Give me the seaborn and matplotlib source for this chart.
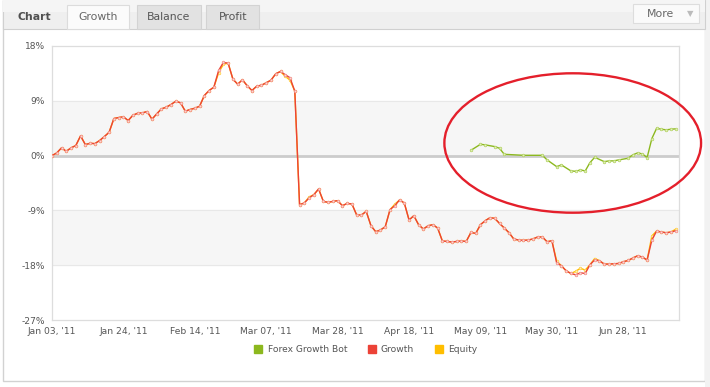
import numpy as np
import pandas as pd
import matplotlib
matplotlib.use('Agg')
import matplotlib.pyplot as plt
import seaborn as sns
from matplotlib.patches import Rectangle, Ellipse
from matplotlib.lines import Line2D

# Data (% growth per trading day)
growth = [0.0, 0.44, 1.27, 0.71, 1.27, 1.65, 3.24, 1.81, 2.02, 1.97,
          2.47, 3.13, 3.83, 6.09, 6.25, 6.37, 5.76, 6.63, 6.96, 7.02,
          7.24, 5.97, 6.86, 7.68, 7.95, 8.39, 8.93, 8.67, 7.29, 7.57,
          7.78, 8.11, 9.87, 10.69, 11.24, 13.98, 15.30, 15.18, 12.55, 11.73,
          12.45, 11.47, 10.69, 11.40, 11.56, 11.96, 12.39, 13.44, 13.82, 13.28,
          12.78, 10.58, -8.06, -7.78, -6.96, -6.42, -5.48, -7.52, -7.68, -7.52,
          -7.40, -8.23, -7.85, -7.95, -9.76, -9.76, -9.16, -11.52, -12.50, -12.22,
          -11.68, -8.88, -8.23, -7.29, -7.78, -10.58, -9.87, -11.35, -12.06, -11.52,
          -11.35, -11.89, -14.03, -14.10, -14.20, -14.10, -14.03, -14.10, -12.62, -12.78,
          -11.35, -10.69, -10.20, -10.31, -11.14, -11.89, -12.67, -13.70, -13.87, -13.93,
          -13.87, -13.70, -13.37, -13.37, -14.15, -13.98, -17.60, -18.10, -18.92, -19.36,
          -19.58, -19.25, -19.36, -17.93, -17.11, -17.27, -17.82, -17.82, -17.77, -17.72,
          -17.44, -17.22, -16.83, -16.45, -16.66, -17.16, -13.87, -12.39, -12.55, -12.67,
          -12.55, -12.34]

equity = list(growth)
equity_adjust = {35: 13.6, 36: 15.0, 49: 13.0, 50: 12.4, 54: -6.8, 72: -8.0,
                 106: -17.3, 110: -19.0, 111: -18.5, 112: -18.8, 114: -16.9,
                 126: -13.2, 131: -12.1}
for k, v in equity_adjust.items():
    equity[k] = v

bot_idx = [88, 90, 91, 93, 94, 95, 99, 103, 104, 106, 107, 109, 110, 111, 112,
           113, 114, 116, 117, 118, 119, 121, 122, 123, 124, 125, 126, 127, 128,
           129, 130, 131]
bot_vals = [0.87, 1.86, 1.76, 1.48, 1.20, 0.21, 0.05, 0.05, -0.71, -1.81, -1.53,
            -2.52, -2.58, -2.35, -2.52, -1.15, -0.28, -0.99, -0.87, -0.87, -0.71,
            -0.44, 0.12, 0.44, 0.28, -0.33, 2.80, 4.49, 4.33, 4.23, 4.33, 4.39]

tick_pos = [0, 15, 30, 45, 60, 75, 90, 105, 120]
tick_labels = ["Jan 03, '11", "Jan 24, '11", "Feb 14, '11", "Mar 07, '11",
               "Mar 28, '11", "Apr 18, '11", "May 09, '11", "May 30, '11",
               "Jun 28, '11"]
y_ticks = [-27, -18, -9, 0, 9, 18]

df_main = pd.DataFrame({'day': np.arange(len(growth)), 'growth': growth, 'equity': equity})
df_bot = pd.DataFrame({'day': bot_idx, 'value': bot_vals})

c_bot = '#8cb81e'
c_growth = '#ec4237'
c_equity = '#ffbe00'
txt = '#555555'

sns.set_theme(style='white')
plt.rcParams['font.family'] = ['DejaVu Sans']

W, H = 710, 387
fig = plt.figure(figsize=(W / 100, H / 100), dpi=100)


def px_rect(x, y, w, h, **kw):
    fig.add_artist(Rectangle((x / W, 1 - (y + h) / H), w / W, h / H,
                             transform=fig.transFigure, zorder=-5, **kw))


# widget frame + header
px_rect(3, 0, 702, 381, facecolor='white', edgecolor='#d2d2d2', lw=1)
px_rect(705, 0, 5, 387, facecolor='#f2f2f2', edgecolor='none')
px_rect(3, 0, 702, 29, facecolor='#efefef', edgecolor='#d0d0d0', lw=0.8)
px_rect(3, 0, 702, 12, facecolor='#f5f5f5', edgecolor='none')
px_rect(67, 5, 62, 24, facecolor='#fbfbfb', edgecolor='#dcdcdc', lw=0.8)
px_rect(137, 5, 64, 24, facecolor='#e2e2e2', edgecolor='#d3d3d3', lw=0.8)
px_rect(206, 5, 53, 24, facecolor='#e2e2e2', edgecolor='#d3d3d3', lw=0.8)
px_rect(633, 4, 66, 19, facecolor='#fafafa', edgecolor='#dddddd', lw=0.8)
fig.text(17 / W, 1 - 17 / H, 'Chart', fontsize=7.8, fontweight='bold', color='#505050', va='center')
fig.text(98 / W, 1 - 17 / H, 'Growth', fontsize=7.8, color='#666666', va='center', ha='center')
fig.text(169 / W, 1 - 17 / H, 'Balance', fontsize=7.8, color='#555555', va='center', ha='center')
fig.text(233 / W, 1 - 17 / H, 'Profit', fontsize=7.8, color='#555555', va='center', ha='center')
fig.text(660 / W, 1 - 14 / H, 'More', fontsize=7.8, color='#666666', va='center', ha='center')
fig.text(690 / W, 1 - 14 / H, '\u25bc', fontsize=6, color='#bbbbbb', va='center', ha='center')

ax = fig.add_axes([52 / W, 1 - 320 / H, 627 / W, 274 / H])
ax.set_facecolor('white')
ax.axhspan(0, 9, color='#f6f6f6', zorder=0)
ax.axhspan(-18, -9, color='#f6f6f6', zorder=0)
for yv in [9, -9, -18]:
    ax.axhline(yv, color='#e8e8e8', lw=0.8, zorder=1)
ax.axhline(0, color='#cccccc', lw=2, zorder=1)

mk = dict(marker='o', markersize=1.9, markeredgewidth=0.5)
sns.lineplot(data=df_main, x='day', y='equity', ax=ax, color=c_equity, lw=1.0,
             markerfacecolor='#ffeeb8', markeredgecolor='#ffcc40', zorder=3, **mk)
sns.lineplot(data=df_main, x='day', y='growth', ax=ax, color=c_growth, lw=1.0,
             markerfacecolor='#fbd6d3', markeredgecolor='#f28a83', zorder=4, **mk)
sns.lineplot(data=df_bot, x='day', y='value', ax=ax, color=c_bot, lw=1.0,
             markerfacecolor='#e2f0b8', markeredgecolor='#b0d060', zorder=5, **mk)

ax.set_xlim(0, 131.7)
ax.set_ylim(-27, 18)
ax.set_xticks(tick_pos)
ax.set_xticklabels(tick_labels)
ax.set_yticks(y_ticks)
ax.set_yticklabels([f'{v}%' for v in y_ticks])
ax.set_xlabel('')
ax.set_ylabel('')
ax.tick_params(axis='both', labelsize=6.6, colors='#cccccc', labelcolor=txt, length=2, width=0.8, pad=3)
ax.tick_params(axis='x', length=0, pad=5)
for s in ax.spines.values():
    s.set_color('#dddddd')
    s.set_linewidth(0.9)

# red highlight ellipse around the bot curve
ax.add_patch(Ellipse((0.8305, 0.646), 0.4094, 0.5088, transform=ax.transAxes,
                     fill=False, edgecolor='#e41f2b', lw=1.7, clip_on=False, zorder=6))

handles = [Line2D([], [], marker='s', linestyle='', color=c, markersize=6)
           for c in [c_bot, c_growth, c_equity]]
fig.legend(handles, ['Forex Growth Bot', 'Growth', 'Equity'], loc='center',
           bbox_to_anchor=(365.5 / W, 1 - 350 / H), ncol=3, frameon=False,
           fontsize=6.6, labelcolor=txt, handletextpad=0.5, columnspacing=2.2,
           handlelength=1.0)

fig.savefig('out.png', dpi=100)
